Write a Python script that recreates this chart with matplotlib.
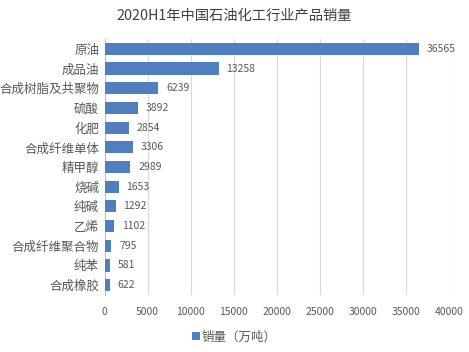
import matplotlib
matplotlib.use("Agg")
import matplotlib.pyplot as plt
from matplotlib.patches import Patch

plt.rcParams['font.family'] = ['Noto Sans CJK SC', 'DejaVu Sans']

# data (top to bottom as in the chart)
categories = ["原油", "成品油", "合成树脂及共聚物", "硫酸", "化肥", "合成纤维单体",
              "精甲醇", "烧碱", "纯碱", "乙烯", "合成纤维聚合物", "纯苯", "合成橡胶"]
sales = [36565, 13258, 6239, 3892, 2854, 3306, 2989, 1653, 1292, 1102, 795, 581, 622]
x_ticks = [0, 5000, 10000, 15000, 20000, 25000, 30000, 35000, 40000]

bar_color = "#4F7FBE"
text_color = "#595959"


def main():
    fig = plt.figure(figsize=(4.69, 3.52), dpi=100)
    ax = fig.add_axes([0.223, 0.162, 0.734, 0.727])

    pos = list(range(len(categories)))
    ax.barh(pos, sales, height=0.62, color=bar_color, zorder=3)
    ax.set_ylim(len(categories) - 0.5, -0.5)
    ax.set_xlim(0, 40000)

    ax.set_yticks(pos)
    ax.set_yticklabels(categories, fontsize=9, color=text_color)
    ax.set_xticks(x_ticks)
    ax.set_xticklabels([str(t) for t in x_ticks], fontsize=7.5, color=text_color)
    ax.tick_params(axis='both', length=0)
    ax.tick_params(axis='x', pad=9)
    ax.tick_params(axis='y', pad=4)

    # value labels
    for p, v in zip(pos, sales):
        ax.text(v + 900, p, str(v), va='center', ha='left',
                fontsize=7.5, color=text_color)

    ax.grid(axis='x', color="#D9D9D9", linewidth=0.8, zorder=0)
    for side in ["top", "right", "bottom"]:
        ax.spines[side].set_visible(False)
    ax.spines["left"].set_color("#BFBFBF")
    ax.spines["left"].set_linewidth(0.8)

    fig.text(0.5, 0.955, "2020H1年中国石油化工行业产品销量", ha='center', va='center',
             fontsize=10.3, color="#404040")

    handle = Patch(facecolor=bar_color, label="销量（万吨）")
    fig.legend(handles=[handle], loc='center', bbox_to_anchor=(0.5, 0.042),
               frameon=False, fontsize=9, handlelength=0.6, handleheight=0.6,
               handletextpad=0.2, labelcolor=text_color)

    fig.savefig("out.png", dpi=100)


if __name__ == "__main__":
    main()
